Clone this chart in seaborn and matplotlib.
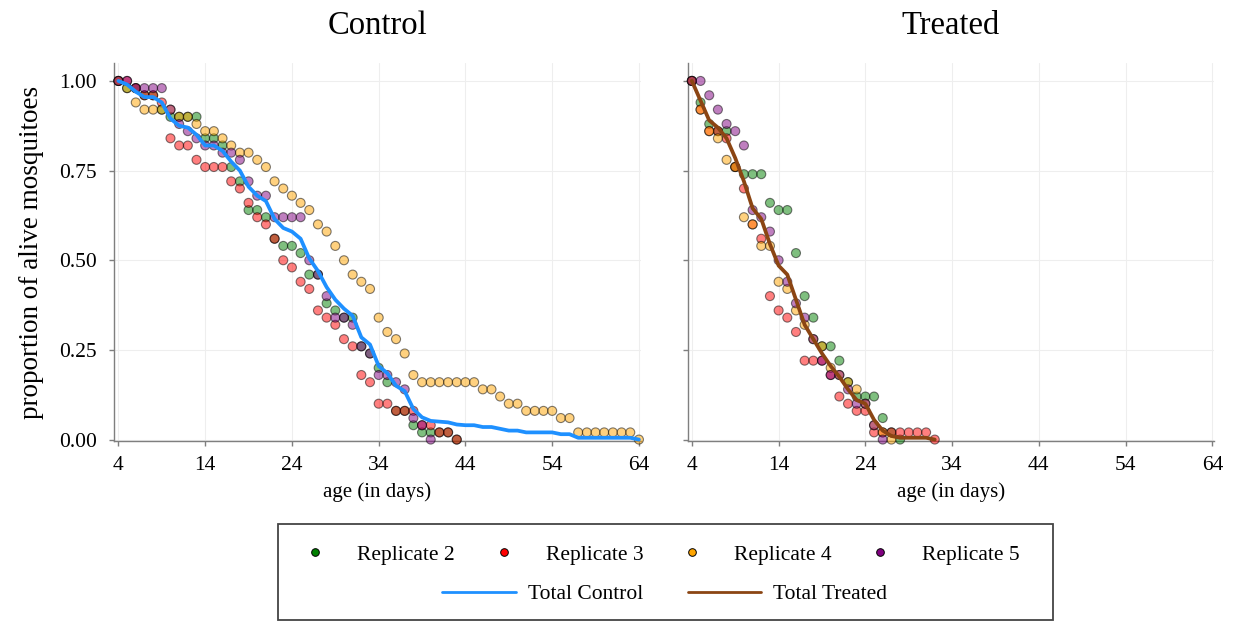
import numpy as np
import pandas as pd
import matplotlib
matplotlib.use("Agg")
import matplotlib.pyplot as plt
import seaborn as sns
from matplotlib.lines import Line2D
from matplotlib.patches import Rectangle

# ---------------- data (proportion alive, one value per day from day 4) ----------------
START_DAY = 4
panel_titles = ["Control", "Treated"]
replicate_names = ["Replicate 2", "Replicate 3", "Replicate 4", "Replicate 5"]
total_names = ["Total Control", "Total Treated"]
x_ticks = [4, 14, 24, 34, 44, 54, 64]
y_ticks = [0.00, 0.25, 0.50, 0.75, 1.00]

# Control
ctrl_rep2 = [1.00, 0.98, 0.98, 0.96, 0.96, 0.92, 0.90, 0.90, 0.90, 0.90, 0.84, 0.84, 0.82, 0.76,
             0.72, 0.64, 0.64, 0.62, 0.56, 0.54, 0.54, 0.52, 0.46, 0.46, 0.38, 0.36, 0.34, 0.34,
             0.26, 0.24, 0.20, 0.16, 0.08, 0.08, 0.04, 0.02, 0.02, 0.02, 0.02, 0.00]
ctrl_rep3 = [1.00, 1.00, 0.98, 0.96, 0.96, 0.94, 0.84, 0.82, 0.82, 0.78, 0.76, 0.76, 0.76, 0.72,
             0.70, 0.66, 0.62, 0.60, 0.56, 0.50, 0.48, 0.44, 0.42, 0.36, 0.34, 0.32, 0.28, 0.26,
             0.18, 0.16, 0.10, 0.10, 0.08, 0.08, 0.08, 0.04, 0.04, 0.02, 0.02, 0.00]
ctrl_rep4 = [1.00, 0.98, 0.94, 0.92, 0.92, 0.92, 0.92, 0.90, 0.90, 0.88, 0.86, 0.86, 0.84, 0.82,
             0.80, 0.80, 0.78, 0.76, 0.72, 0.70, 0.68, 0.66, 0.64, 0.60, 0.58, 0.54, 0.50, 0.46,
             0.44, 0.42, 0.34, 0.30, 0.28, 0.24, 0.18, 0.16, 0.16, 0.16, 0.16, 0.16, 0.16, 0.16,
             0.14, 0.14, 0.12, 0.10, 0.10, 0.08, 0.08, 0.08, 0.08, 0.06, 0.06, 0.02, 0.02, 0.02,
             0.02, 0.02, 0.02, 0.02, 0.00]
ctrl_rep5 = [1.00, 1.00, 0.98, 0.98, 0.98, 0.98, 0.92, 0.88, 0.86, 0.84, 0.82, 0.82, 0.80, 0.80,
             0.78, 0.72, 0.68, 0.68, 0.62, 0.62, 0.62, 0.62, 0.50, 0.46, 0.40, 0.34, 0.34, 0.32,
             0.26, 0.24, 0.18, 0.18, 0.16, 0.14, 0.06, 0.04, 0.00]
ctrl_total = [1.000, 0.990, 0.970, 0.955, 0.955, 0.940, 0.895, 0.875, 0.870, 0.850, 0.820, 0.820,
              0.805, 0.775, 0.750, 0.705, 0.680, 0.665, 0.615, 0.590, 0.580, 0.560, 0.505, 0.470,
              0.425, 0.390, 0.365, 0.345, 0.285, 0.265, 0.205, 0.185, 0.150, 0.135, 0.085, 0.062,
              0.052, 0.050, 0.048, 0.042, 0.040, 0.040, 0.035, 0.035, 0.030, 0.025, 0.025, 0.020,
              0.020, 0.020, 0.020, 0.015, 0.015, 0.005, 0.005, 0.005, 0.005, 0.005, 0.005, 0.005,
              0.000]

# Treated
trt_rep2 = [1.00, 0.94, 0.88, 0.86, 0.86, 0.76, 0.74, 0.74, 0.74, 0.66, 0.64, 0.64, 0.52, 0.40,
            0.34, 0.26, 0.26, 0.22, 0.16, 0.12, 0.12, 0.12, 0.06, 0.02, 0.00]
trt_rep3 = [1.00, 0.92, 0.86, 0.86, 0.84, 0.76, 0.70, 0.60, 0.56, 0.40, 0.36, 0.34, 0.30, 0.22,
            0.22, 0.22, 0.18, 0.12, 0.10, 0.08, 0.08, 0.02, 0.02, 0.02, 0.02, 0.02, 0.02, 0.02, 0.00]
trt_rep4 = [1.00, 0.92, 0.86, 0.84, 0.78, 0.76, 0.62, 0.60, 0.54, 0.54, 0.44, 0.42, 0.36, 0.32,
            0.28, 0.26, 0.20, 0.18, 0.16, 0.14, 0.10, 0.04, 0.02, 0.00]
trt_rep5 = [1.00, 1.00, 0.96, 0.92, 0.88, 0.86, 0.82, 0.64, 0.62, 0.58, 0.50, 0.44, 0.38, 0.34,
            0.28, 0.22, 0.18, 0.18, 0.14, 0.10, 0.10, 0.04, 0.00]
trt_total = [1.000, 0.945, 0.890, 0.870, 0.840, 0.785, 0.720, 0.645, 0.615, 0.545, 0.485, 0.460,
             0.390, 0.320, 0.280, 0.240, 0.205, 0.175, 0.140, 0.110, 0.100, 0.055, 0.025, 0.010,
             0.005, 0.005, 0.005, 0.005, 0.000]

# ---------------- tidy tables ----------------
rows = []
for grp, reps in zip(panel_titles, [[ctrl_rep2, ctrl_rep3, ctrl_rep4, ctrl_rep5],
                                    [trt_rep2, trt_rep3, trt_rep4, trt_rep5]]):
    for name, vals in zip(replicate_names, reps):
        for i, v in enumerate(vals):
            rows.append((grp, name, START_DAY + i, v))
points = pd.DataFrame(rows, columns=["group", "replicate", "day", "value"])

trows = []
for grp, name, vals in zip(panel_titles, total_names, [ctrl_total, trt_total]):
    for i, v in enumerate(vals):
        trows.append((grp, name, START_DAY + i, v))
totals = pd.DataFrame(trows, columns=["group", "series", "day", "value"])

# ---------------- style ----------------
sns.set_theme(style="whitegrid")
plt.rcParams["font.family"] = ["Liberation Serif", "DejaVu Serif"]
plt.rcParams["text.color"] = "black"
plt.rcParams["axes.labelcolor"] = "black"
plt.rcParams["xtick.color"] = "black"
plt.rcParams["ytick.color"] = "black"

rep_colors = {"Replicate 2": "green", "Replicate 3": "red",
              "Replicate 4": "orange", "Replicate 5": "purple"}
line_colors = {"Total Control": "dodgerblue", "Total Treated": "saddlebrown"}

fig = plt.figure(figsize=(12.38, 6.22), dpi=100)
axL = fig.add_axes([0.0923, 0.291, 0.4252, 0.6077])
axR = fig.add_axes([0.5555, 0.291, 0.4252, 0.6077], sharey=axL)

for ax, grp, tname in zip([axL, axR], panel_titles, total_names):
    sub = points[points["group"] == grp]
    sns.scatterplot(data=sub, x="day", y="value", hue="replicate", hue_order=replicate_names,
                    palette=rep_colors, s=42, alpha=0.5, edgecolor="black", linewidth=0.8,
                    legend=False, ax=ax, zorder=3, clip_on=False)
    tsub = totals[totals["group"] == grp]
    sns.lineplot(data=tsub, x="day", y="value", color=line_colors[tname], linewidth=2.7,
                 ax=ax, zorder=4, legend=False, clip_on=False)
    ax.set_xlim(3.52, 64.2)
    ax.set_ylim(-0.004, 1.05)
    ax.set_xticks(x_ticks)
    ax.set_yticks(y_ticks)
    ax.set_yticklabels([f"{t:.2f}" for t in y_ticks])
    ax.set_title(grp, fontsize=23.5, pad=21, color="black")
    ax.set_xlabel("age (in days)", fontsize=15, labelpad=5, color="black")
    ax.set_ylabel("")
    for s in ["top", "right"]:
        ax.spines[s].set_visible(False)
    for s in ["left", "bottom"]:
        ax.spines[s].set_visible(True)
        ax.spines[s].set_color("#7f7f7f")
        ax.spines[s].set_linewidth(1.0)
    ax.tick_params(axis="both", which="both", bottom=True, left=True, length=3.5, width=1,
                   color="#7f7f7f", labelsize=15.5, labelcolor="black")
    ax.tick_params(axis="x", pad=7.5)
    ax.tick_params(axis="y", pad=9)
    ax.grid(True, color="#eeeeee", linewidth=0.8)
    ax.set_axisbelow(True)

axL.set_ylabel("proportion of alive mosquitoes", fontsize=19.5, labelpad=11, color="black")
axR.tick_params(axis="y", labelleft=False)

# ---------------- legend ----------------
rep_handles = [Line2D([], [], marker="o", ls="", markerfacecolor=rep_colors[n],
                      markeredgecolor="black", markeredgewidth=0.7, markersize=5.5)
               for n in replicate_names]
line_handles = [Line2D([], [], color=line_colors[n], linewidth=2) for n in total_names]

leg1 = fig.legend(handles=rep_handles, labels=replicate_names, loc="center",
                  bbox_to_anchor=(0.5327, 0.108), ncol=4, frameon=False, fontsize=15.5,
                  handlelength=1.5, handletextpad=1.21, columnspacing=1.5)
leg2 = fig.legend(handles=line_handles, labels=total_names, loc="center",
                  bbox_to_anchor=(0.537, 0.045), ncol=2, frameon=False, fontsize=15.5,
                  handlelength=3.4, handletextpad=0.56, columnspacing=2.1)
for leg in (leg1, leg2):
    for t in leg.get_texts():
        t.set_color("black")
fig.add_artist(Rectangle((0.2246, 0.003), 0.6260, 0.1544, transform=fig.transFigure,
                         fill=False, edgecolor="#444444", linewidth=1.3))

fig.savefig("out.png", dpi=100)
